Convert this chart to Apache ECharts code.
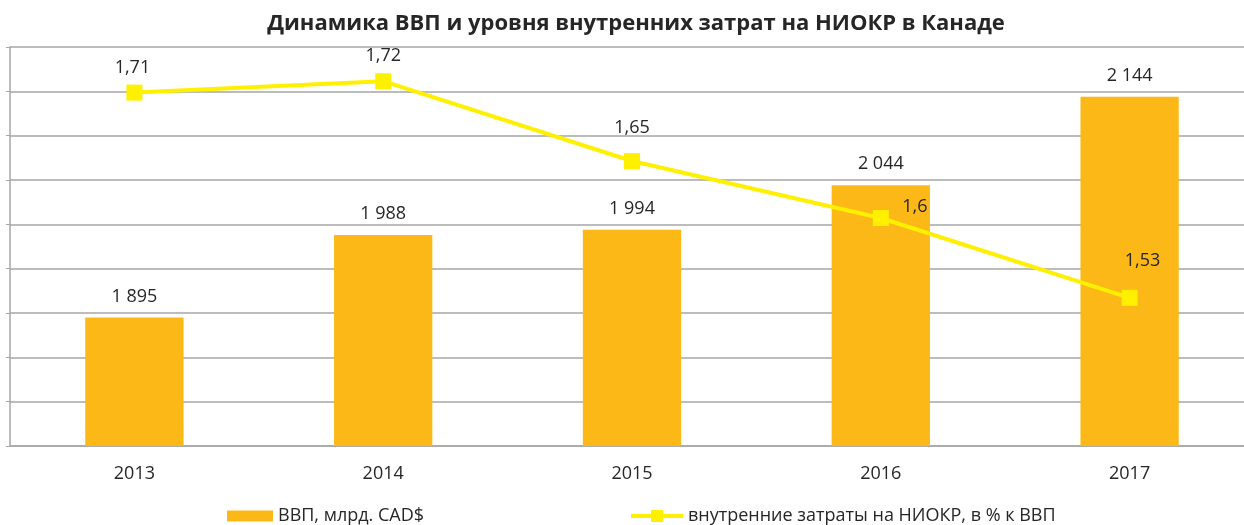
<!DOCTYPE html>
<html>
<head>
<meta charset="utf-8">
<script src="https://cdn.jsdelivr.net/npm/echarts@6/dist/echarts.min.js"></script>
<style>
  html, body { margin: 0; padding: 0; background: #fff; overflow: hidden; }
  #chart { width: 1254px; height: 525px; }
</style>
</head>
<body>
<div id="chart"></div>
<script>
const years = ['2013', '2014', '2015', '2016', '2017'];
const gdp = [1895, 1988, 1994, 2044, 2144];
const rdShare = [1.71, 1.72, 1.65, 1.6, 1.53];

const gdpName = 'ВВП, млрд. CAD$';
const rdName = 'внутренние затраты на НИОКР, в % к ВВП';

// label offsets for the line, placed like in the original
const lineLabelOffset = [[-2, 0], [0, 0], [0, -8], [34, 14], [13, -12]];

const font = '"Open Sans", sans-serif';
const gridColor = '#a6a6a6';
const textColor = '#262626';

// chart is a bit wider than the window: the original is cut on the right
const myChart = echarts.init(document.getElementById('chart'));

myChart.setOption({
  animation: false,
  title: {
    text: 'Динамика ВВП и уровня внутренних затрат на НИОКР в Канаде',
    left: 631,
    textAlign: 'center',
    top: 8,
    textStyle: { fontFamily: font, fontWeight: 'bold', fontSize: 22, color: textColor }
  },
  legend: [
    {
      data: [{ name: gdpName, icon: 'rect' }],
      left: 222,
      top: 502,
      itemWidth: 46,
      itemHeight: 11,
      textStyle: { fontFamily: font, fontSize: 18, color: textColor }
    },
    {
      data: [rdName],
      left: 624,
      top: 502,
      itemWidth: 52,
      itemHeight: 15,
      lineStyle: { width: 4 },
      textStyle: { fontFamily: font, fontSize: 18, color: textColor }
    }
  ],
  grid: { left: 10, top: 47, right: 0, bottom: 79 },
  xAxis: {
    type: 'category',
    data: years,
    axisLine: { lineStyle: { color: gridColor, width: 1.5 } },
    axisTick: { show: false },
    axisLabel: { fontFamily: font, fontSize: 18, color: textColor, margin: 19 }
  },
  yAxis: [
    {
      type: 'value',
      min: 1750,
      max: 2200,
      interval: 50,
      axisLabel: { show: false },
      axisLine: { show: true, lineStyle: { color: gridColor, width: 1.5 } },
      axisTick: { show: true, length: 4, lineStyle: { color: gridColor } },
      splitLine: { lineStyle: { color: gridColor, width: 1.5 } }
    },
    {
      type: 'value',
      min: 1.4,
      max: 1.75,
      show: false,
      splitLine: { show: false }
    }
  ],
  series: [
    {
      name: gdpName,
      type: 'bar',
      data: gdp,
      barWidth: '39.5%',
      itemStyle: { color: '#fbb817' },
      label: {
        show: true,
        position: 'top',
        distance: 12,
        fontFamily: font,
        fontSize: 18,
        color: textColor,
        formatter: p => String(p.value).replace(/\B(?=(\d{3})+(?!\d))/g, ' ')
      }
    },
    {
      name: rdName,
      type: 'line',
      yAxisIndex: 1,
      data: rdShare.map((v, i) => ({ value: v, label: { offset: lineLabelOffset[i] } })),
      symbol: 'rect',
      symbolSize: 16,
      lineStyle: { color: '#fff000', width: 4 },
      itemStyle: { color: '#fff000' },
      label: {
        show: true,
        position: 'top',
        distance: 8,
        fontFamily: font,
        fontSize: 18,
        color: textColor,
        formatter: p => String(p.value).replace('.', ',')
      }
    }
  ]
});

window.addEventListener('resize', () => {
  myChart.resize();
});
</script>
</body>
</html>
